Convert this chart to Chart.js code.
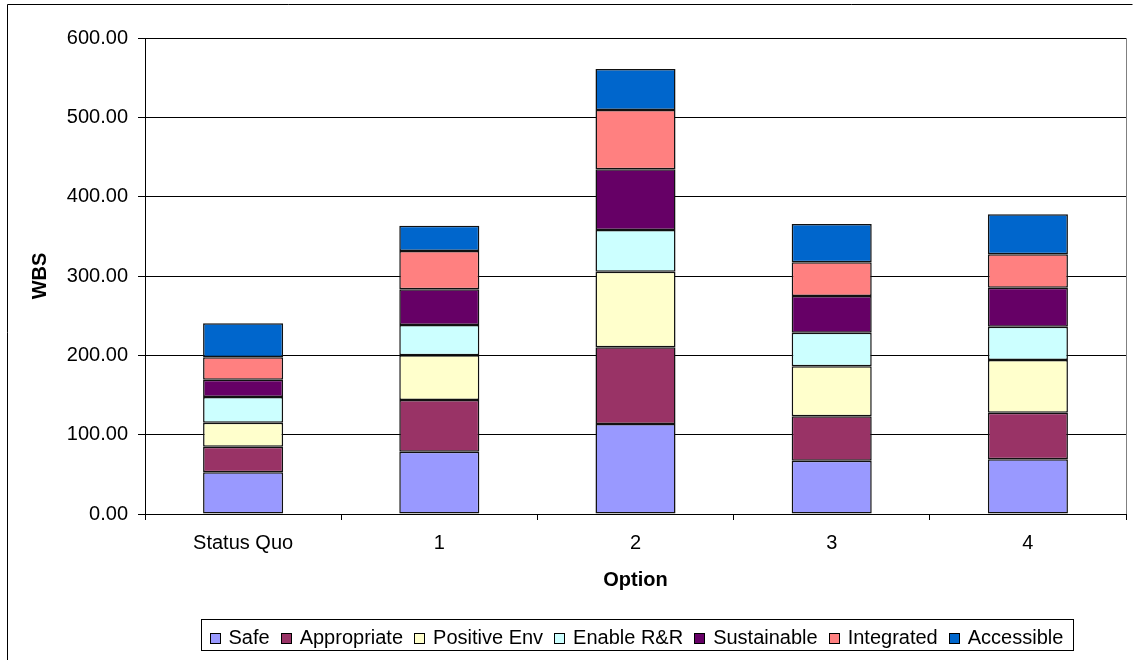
<!DOCTYPE html>
<html>
<head>
<meta charset="utf-8">
<script src="https://cdn.jsdelivr.net/npm/chart.js@4.4.1/dist/chart.umd.min.js"></script>
<style>
  html, body { margin: 0; padding: 0; background: #fff; }
  canvas { display: block; }
</style>
</head>
<body>
<canvas id="chart" width="1134" height="660"></canvas>
<script>
// Options compared and the WBS score of each criterion
const categories = ['Status Quo', '1', '2', '3', '4'];

const safe        = [52.6, 78.5, 113.4, 67.2, 69.0];
const appropriate = [32.2, 65.2,  96.7, 56.0, 58.7];
const positiveEnv = [30.3, 56.3,  95.4, 63.0, 66.4];
const enableRR    = [32.4, 38.2,  52.5, 42.3, 42.0];
const sustainable = [21.8, 45.0,  76.5, 46.3, 49.2];
const integrated  = [28.2, 48.3,  74.8, 42.5, 42.1];
const accessible  = [42.9, 31.9,  51.7, 48.3, 50.4];

const seriesNames = ['Safe', 'Appropriate', 'Positive Env', 'Enable R&R', 'Sustainable', 'Integrated', 'Accessible'];
const seriesValues = [safe, appropriate, positiveEnv, enableRR, sustainable, integrated, accessible];
const seriesColors = ['#9999FF', '#993366', '#FFFFCC', '#CCFFFF', '#660066', '#FF8080', '#0066CC'];

const yTickValues = [0, 100, 200, 300, 400, 500, 600];

const FONT = '"Liberation Sans", Arial, Helvetica, sans-serif';

// Page frame, plot border on the right, and the boxed legend under the axis title
const decorations = {
  id: 'decorations',
  beforeDraw(chart) {
    const ctx = chart.ctx;
    ctx.save();
    ctx.fillStyle = '#fff';
    ctx.fillRect(0, 0, chart.width, chart.height);
    ctx.restore();
  },
  beforeDatasetsDraw(chart) {
    const { ctx, chartArea } = chart;
    const x = Math.round(chartArea.right) + 0.5;
    ctx.save();
    ctx.strokeStyle = '#808080';
    ctx.lineWidth = 1;
    ctx.beginPath();
    ctx.moveTo(x, chartArea.top);
    ctx.lineTo(x, chartArea.bottom);
    ctx.stroke();
    ctx.restore();
  },
  afterDraw(chart) {
    const ctx = chart.ctx;
    ctx.save();
    // outer frame
    ctx.strokeStyle = '#000';
    ctx.lineWidth = 1;
    ctx.beginPath();
    ctx.moveTo(7.5, chart.height);
    ctx.lineTo(7.5, 4.5);
    ctx.lineTo(1132.5, 4.5);
    ctx.stroke();

    // legend
    ctx.font = '20px ' + FONT;
    const sw = 11, gapSwatch = 8, gapItem = 11, padL = 8, padR = 10;
    const items = chart.data.datasets.map(ds => ({
      label: ds.label,
      color: ds.backgroundColor,
      w: ctx.measureText(ds.label).width
    }));
    const total = items.reduce((s, it) => s + sw + gapSwatch + it.w, 0) + gapItem * (items.length - 1);
    const boxW = Math.round(total + padL + padR);
    const boxX = Math.round(637 - boxW / 2) + 0.5;
    const boxY = 619.5, boxH = 31;
    ctx.strokeStyle = '#000';
    ctx.strokeRect(boxX, boxY, boxW, boxH);

    let x = boxX + padL;
    const midY = 638.5;
    ctx.textBaseline = 'middle';
    ctx.textAlign = 'left';
    items.forEach(it => {
      const sx = Math.round(x) + 0.5;
      ctx.fillStyle = it.color;
      ctx.fillRect(sx, 633.5, sw - 1, sw - 1);
      ctx.strokeStyle = '#000';
      ctx.strokeRect(sx, 633.5, sw - 1, sw - 1);
      ctx.fillStyle = '#000';
      ctx.fillText(it.label, x + sw + gapSwatch, midY);
      x += sw + gapSwatch + it.w + gapItem;
    });
    ctx.restore();
  }
};

const datasets = seriesNames.map((name, i) => ({
  label: name,
  data: seriesValues[i],
  backgroundColor: seriesColors[i],
  borderColor: '#111',
  borderWidth: 1.5,
  borderSkipped: false,
  inflateAmount: 0,
  barPercentage: 0.408,
  categoryPercentage: 1.0
}));

new Chart(document.getElementById('chart'), {
  type: 'bar',
  data: { labels: categories, datasets },
  plugins: [decorations],
  options: {
    responsive: false,
    animation: false,
    layout: { padding: { top: 38, right: 8, left: 0, bottom: 0 } },
    plugins: {
      legend: { display: false },
      tooltip: { enabled: false }
    },
    scales: {
      x: {
        stacked: true,
        grid: { offset: true, drawOnChartArea: false, drawTicks: true, tickLength: 6, color: '#000', lineWidth: 1 },
        border: { color: '#000', width: 1 },
        ticks: { color: '#000', font: { family: FONT, size: 20 }, padding: 11, maxRotation: 0 },
        title: {
          display: true, text: 'Option', color: '#000',
          font: { family: FONT, size: 20, weight: 'bold' },
          padding: { top: 0, bottom: 68 }
        },
        afterFit(scale) { scale.height = 146; }
      },
      y: {
        stacked: true,
        min: 0,
        max: 600,
        afterBuildTicks(scale) { scale.ticks = yTickValues.map(v => ({ value: v })); },
        ticks: {
          color: '#000', font: { family: FONT, size: 20 }, padding: 10,
          callback: v => Number(v).toFixed(2)
        },
        grid: { color: '#000', lineWidth: 1, tickLength: 7 },
        border: { color: '#000', width: 1 },
        title: {
          display: true, text: 'WBS', color: '#000',
          font: { family: FONT, size: 20, weight: 'bold' },
          padding: { top: 28, bottom: 0 }
        },
        afterFit(scale) { scale.width = 145; }
      }
    }
  }
});
</script>
</body>
</html>
